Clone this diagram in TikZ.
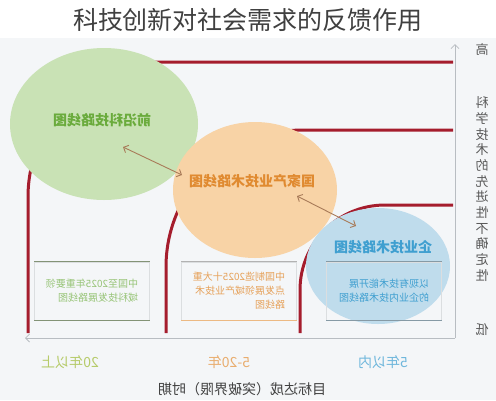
\documentclass[tikz,border=0pt]{standalone}
\usepackage{fontspec}
\setmainfont{Noto Sans CJK SC}
\usetikzlibrary{shapes.geometric,arrows.meta}

\definecolor{paper}{HTML}{F4F6F8}
\definecolor{stepred}{HTML}{A51D2D}
\definecolor{axisgray}{HTML}{B8BDC2}
\definecolor{linkbrown}{HTML}{A87A58}
\definecolor{frontfill}{HTML}{C9E2B5}
\definecolor{frontink}{HTML}{6AAB3C}
\definecolor{longink}{HTML}{B6CB6A}
\definecolor{natfill}{HTML}{F8D3A6}
\definecolor{natink}{HTML}{E08A30}
\definecolor{firmfill}{HTML}{BFDCEC}
\definecolor{firmink}{HTML}{3F9FD0}

\begin{document}
\begin{tikzpicture}[x=1pt,y=-1pt,
    mirror/.style={xscale=-1},
    stepline/.style={stepred,line width=3pt},
    axis/.style={axisgray,line width=0.8pt},
    blob/.style={ellipse,inner sep=0pt},
    blobtext/.style={mirror,font=\fontsize{14}{16}\selectfont\bfseries},
    plan/.style={mirror,draw=axisgray!50,line width=0.4pt,minimum width=115pt,minimum height=58pt,
        align=left,font=\fontsize{10}{14}\selectfont},
    link/.style={linkbrown,line width=0.9pt,{Straight Barb[length=4pt]}-{Straight Barb[length=4pt]}}]

    \useasboundingbox (0,0) rectangle (496,400);
    \fill[white] (0,0) rectangle (496,38);
    \fill[paper] (0,38) rectangle (496,400);

    \node[font=\fontsize{25}{30}\selectfont,text=black!75] (title) at (248,20) {科技创新对社会需求的反馈作用};

    % steps
    \draw[stepline,rounded corners=135pt] (28,333) -- (28,62) -- (453,62);
    \draw[stepline,rounded corners=137pt] (166,333) -- (166,130) -- (453,130);
    \draw[stepline,rounded corners=85pt] (300,333) -- (300,205) -- (453,205);

    % axes
    \coordinate (hi) at (455,44);
    \coordinate (lo) at (455,338);
    \coordinate (far) at (25,338);
    \draw[axis,-{Straight Barb[length=4pt]}] (lo) -- (hi);
    \draw[axis,-{Straight Barb[length=4pt]}] (lo) -- (far);

    % roadmaps
    \node[blob,fill=frontfill,minimum width=188pt,minimum height=152pt] (front) at (104,124) {};
    \node[blob,fill=natfill,minimum width=164pt,minimum height=136pt] (nat) at (255,190) {};
    \node[blob,fill=firmfill,minimum width=144pt,minimum height=116pt] (firm) at (378,266) {};

    \node[blobtext,text=frontink] (frontname) at (102,120) {前沿科技路线图};
    \node[blobtext,text=natink] (natname) at (252,181) {国家产业技术路线图};
    \node[blobtext,text=firmink] (firmname) at (383,247) {企业技术路线图};

    \coordinate (f1) at (123,147);
    \coordinate (n1) at (182,175);
    \coordinate (n2) at (297,196);
    \coordinate (c1) at (356,226);
    \draw[link] (f1) -- (n1);
    \draw[link] (n2) -- (c1);

    % plans
    \node[plan,text=frontink!70] (frontplan) at (92,291) {中国至2025年重要领\\域科技发展路线图};
    \node[plan,text=natink!80] (natplan) at (239,291) {中国制造2025十大重\\点发展领域产业技术\\路线图};
    \node[plan,text=firmink] (firmplan) at (384,291) {以现有技术能开展\\的企业内技术路线图};
    \draw[black!35!frontfill,line width=1.2pt] (frontplan.north west) -- (frontplan.north east) (frontplan.south west) -- (frontplan.south east);
    \draw[black!30,line width=1.2pt] (natplan.north west) -- (natplan.north east);
    \draw[natink!60,line width=1.2pt] (natplan.south west) -- (natplan.south east);
    \draw[black!30!firmfill,line width=1.2pt] (firmplan.north west) -- (firmplan.north east) (firmplan.south west) -- (firmplan.south east);

    % labels
    \node[mirror,font=\fontsize{13}{15}\selectfont,text=black!65] (high) at (482,50) {高};
    \node[mirror,font=\fontsize{13}{15}\selectfont,text=black!65] (low) at (482,330) {低};
    \node[mirror,font=\fontsize{13}{15.7}\selectfont,text=black!65,align=center] (certainty) at (482,189)
        {科\\学\\技\\术\\的\\先\\进\\性\\不\\确\\定\\性};

    \node[mirror,font=\fontsize{14}{16}\selectfont,text=longink] (long) at (70,362) {20年以上};
    \node[mirror,font=\fontsize{14}{16}\selectfont,text=natink!70] (mid) at (229,362) {5-20年};
    \node[mirror,font=\fontsize{14}{16}\selectfont,text=firmink!75] (short) at (383,362) {5年以内};
    \node[mirror,font=\fontsize{14}{16}\selectfont,text=black!75] (period) at (242,389) {目标达成（突破界限）时期};
\end{tikzpicture}
\end{document}
